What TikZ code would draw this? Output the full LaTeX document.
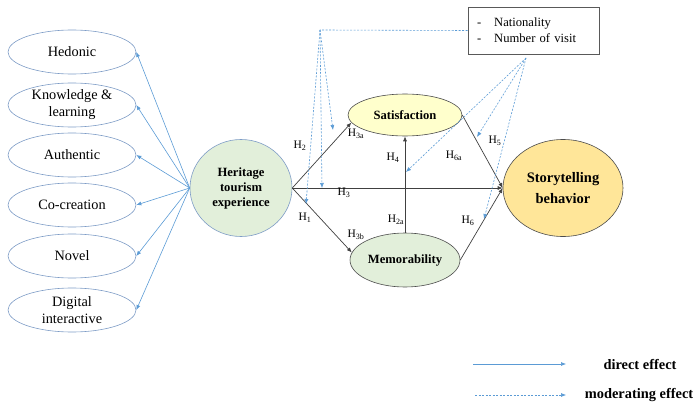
\documentclass[tikz,border=0pt]{standalone}
\usepackage{fontspec}
\setmainfont{Liberation Serif}
\usetikzlibrary{calc,shapes.geometric,arrows.meta}

\definecolor{arrowblue}{HTML}{5B9BD5}
\definecolor{rimblue}{HTML}{7E9CC6}
\definecolor{palegreen}{HTML}{E2EFDA}
\definecolor{paleyellow}{HTML}{FFFFCC}
\definecolor{palegold}{HTML}{FFE699}

\begin{document}
\begin{tikzpicture}[%
    x=1pt, y=-1pt,
    >={Latex[length=5pt,width=4pt]},
    factor/.style={ellipse, draw=rimblue, line width=0.6pt, minimum width=128pt,
      minimum height=44pt, inner sep=0pt, align=center,
      font=\fontsize{14.3}{17}\selectfont},
    construct/.style={ellipse, draw=black!70, line width=0.6pt, inner sep=0pt,
      align=center, font=\bfseries\fontsize{12.6}{15}\selectfont},
    link/.style={draw=black!75, line width=0.7pt, ->},
    direct/.style={draw=arrowblue, line width=0.6pt, ->},
    moderate/.style={draw=arrowblue, line width=0.6pt, dash pattern=on 2pt off 1.5pt, ->},
    hyp/.style={inner sep=0pt, font=\fontsize{11.5}{13}\selectfont},
    legend/.style={inner sep=0pt, font=\bfseries\fontsize{14.4}{16}\selectfont}
  ]
    \useasboundingbox (0,0) rectangle (696,404);

    % experience dimensions
    \foreach \name/\txt/\y in {hedonic/Hedonic/52, knowledge/{Knowledge \&\\learning}/105,
        authentic/Authentic/155, cocreation/Co-creation/205, novel/Novel/256,
        digital/{Digital\\interactive}/310}
      {\node[factor] (\name) at (72,\y) {\txt};};

    % constructs
    \node[construct, fill=palegreen, draw=rimblue, minimum width=102pt, minimum height=97pt]
      (hte) at (241,188) {Heritage\\tourism\\experience};
    \node[construct, fill=paleyellow, minimum width=114pt, minimum height=42pt]
      (sat) at (405,115) {Satisfaction};
    \node[construct, fill=palegreen, minimum width=110pt, minimum height=54pt]
      (mem) at (405,260) {Memorability};
    \node[construct, fill=palegold, minimum width=120pt, minimum height=97pt,
      font=\bfseries\fontsize{14.5}{21}\selectfont]
      (story) at (563,188) {Storytelling\\behavior};

    % moderators
    \node[draw=black!65, line width=0.7pt, minimum width=131pt, minimum height=47pt,
      text width=113pt, inner xsep=9pt, align=left, font=\fontsize{12.6}{16}\selectfont]
      (moder) at (533.5,30.5) {-\hspace{13pt}Nationality\\-\hspace{13pt}Number of visit};

    \path (hte.east)  edge[link] (sat.188)
          (hte.east)  edge[link] (story.west)
          (hte.east)  edge[link] (mem.172)
          (mem.north) edge[link] (sat.south)
          (sat.east)  edge[link] (story.west)
          (mem.east)  edge[link] (story.west);

    \foreach \name in {hedonic,knowledge,authentic,cocreation,novel,digital}
      {\path (hte.west) edge[direct] (\name.east);};

    \coordinate (modtop) at (320,30);
    \coordinate (modbot) at (526,58);
    \coordinate (onh2) at (333,130);
    \coordinate (onh3) at (322,188);
    \coordinate (onh1) at (306,204);
    \coordinate (onh5) at (477,137);
    \coordinate (onh4) at (406,172);
    \coordinate (onh6) at (484,219);

    \path (moder.west) edge[moderate,-] (modtop)
          (modtop)     edge[moderate]   (onh2)
          (modtop)     edge[moderate]   (onh3)
          (modtop)     edge[moderate]   (onh1)
          (modbot)     edge[moderate]   (onh5)
          (modbot)     edge[moderate]   (onh4)
          (modbot)     edge[moderate]   (onh6);

    % hypothesis labels
    \node[hyp] (lh2)  at (300,146) {H\textsubscript{2}};
    \node[hyp] (lh3a) at (356,134) {H\textsubscript{3a}};
    \node[hyp] (lh4)  at (393,158) {H\textsubscript{4}};
    \node[hyp] (lh6a) at (454,156) {H\textsubscript{6a}};
    \node[hyp] (lh3)  at (344,193) {H\textsubscript{3}};
    \node[hyp] (lh1)  at (305,218) {H\textsubscript{1}};
    \node[hyp] (lh3b) at (356,235) {H\textsubscript{3b}};
    \node[hyp] (lh2a) at (396,220) {H\textsubscript{2a}};
    \node[hyp] (lh5)  at (495,141) {H\textsubscript{5}};
    \node[hyp] (lh6)  at (468,221) {H\textsubscript{6}};

    % legend
    \coordinate (dirA) at (473,364);
    \coordinate (dirB) at (566,364);
    \coordinate (modA) at (475,395);
    \coordinate (modB) at (566,395);
    \path (dirA) edge[direct]   (dirB)
          (modA) edge[moderate] (modB);
    \node[legend] (dirlab) at (640,364) {direct effect};
    \node[legend] (modlab) at (639,395) {moderating effect};
\end{tikzpicture}
\end{document}
